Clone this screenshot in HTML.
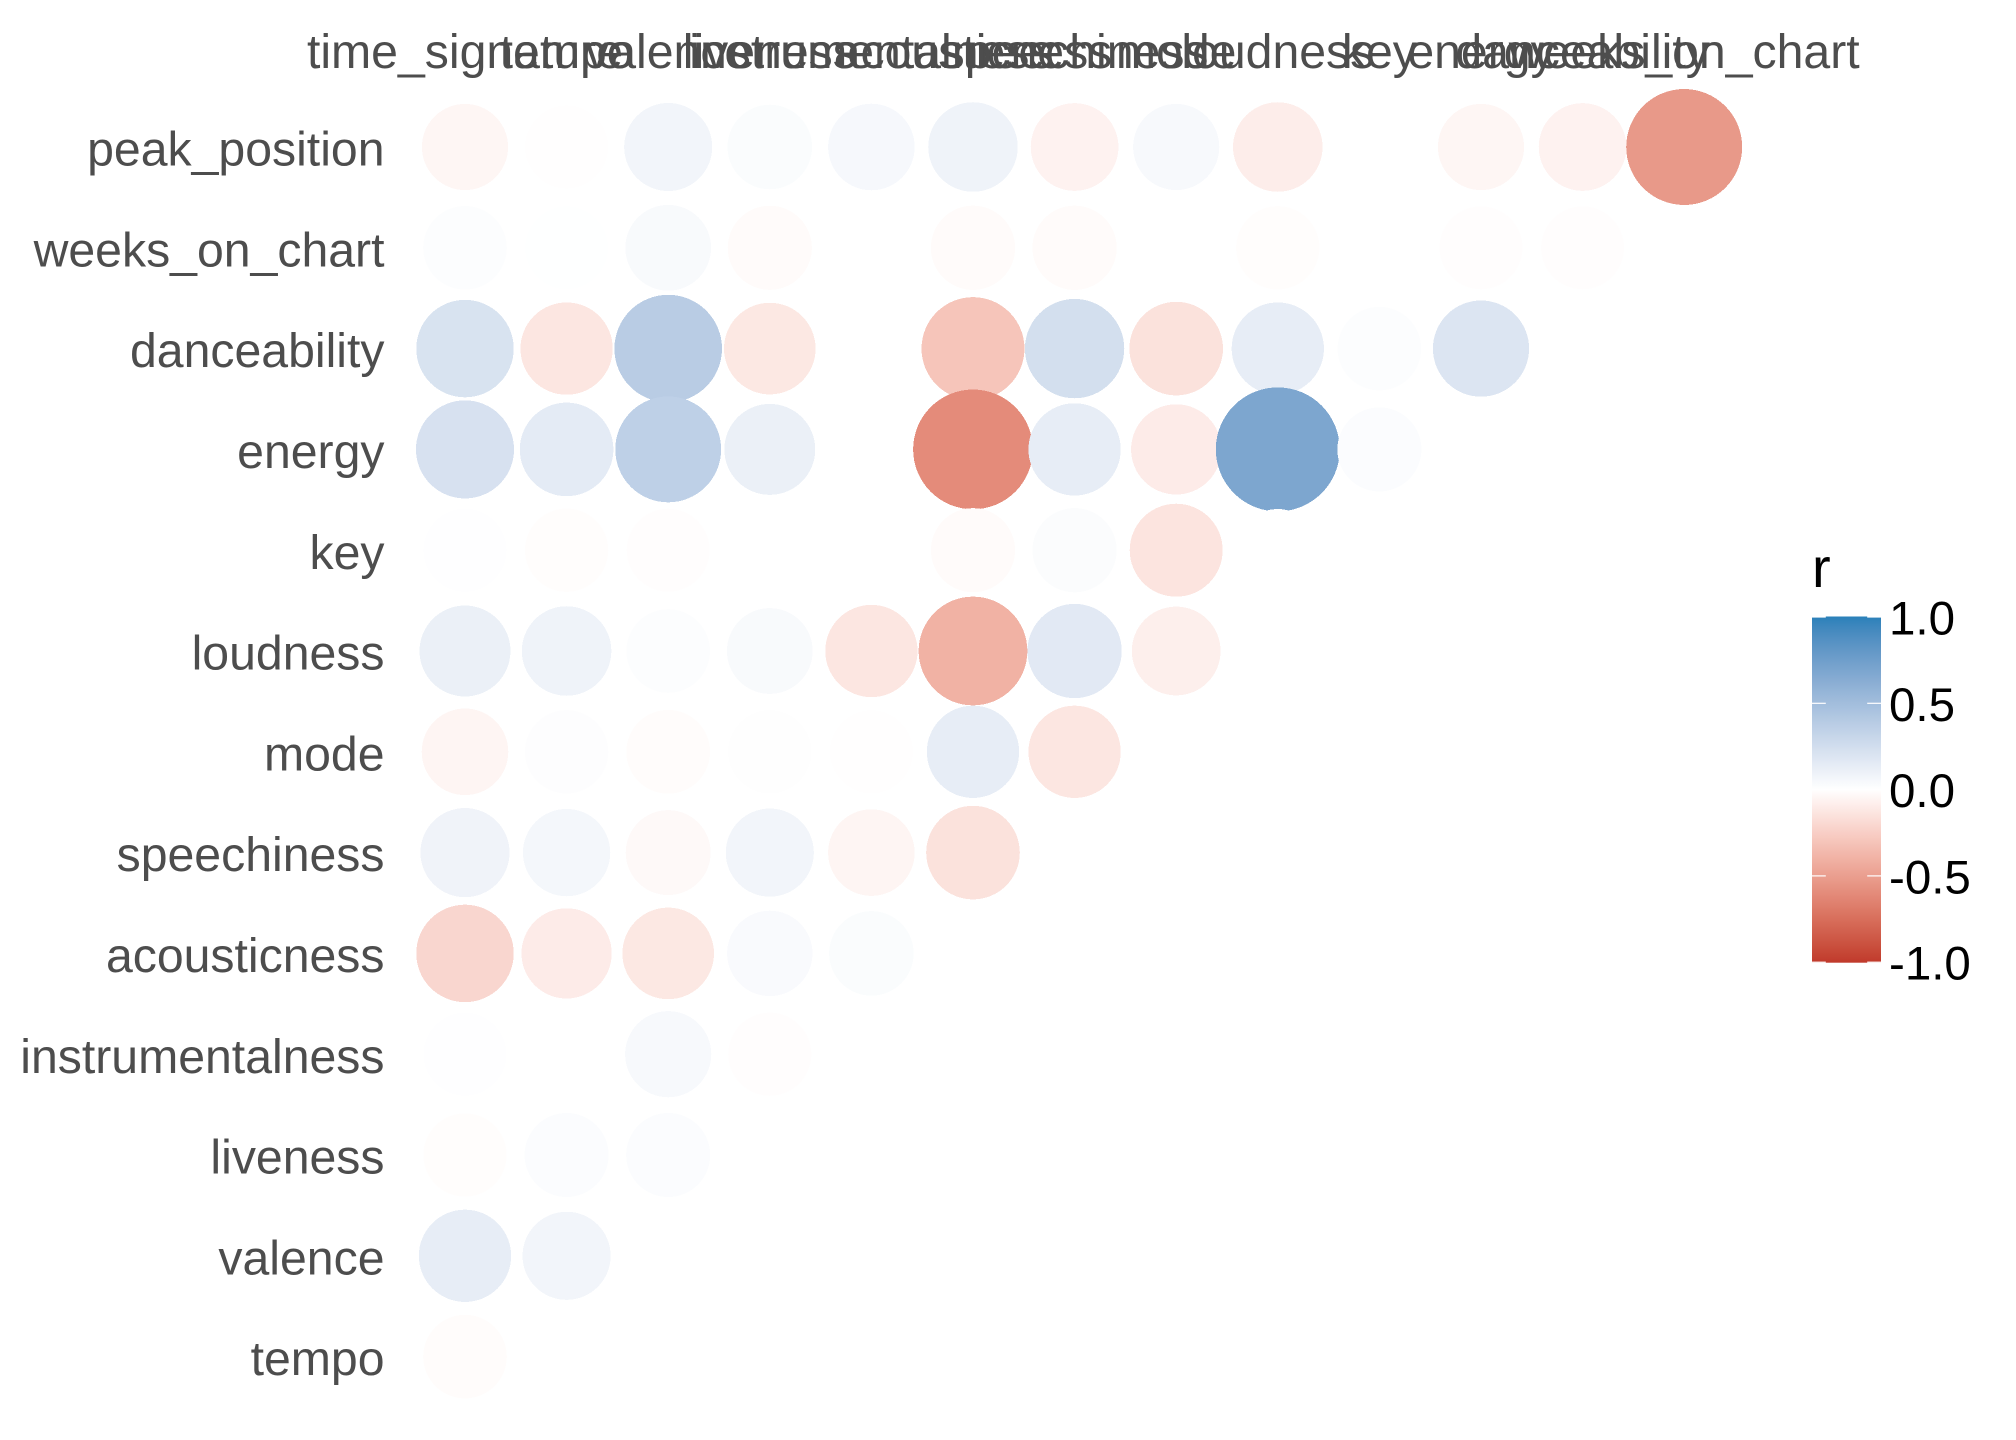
<!DOCTYPE html>
<html lang="en">
<head>
<meta charset="utf-8">
<title>Correlation plot</title>
<style>
  html, body { margin: 0; padding: 0; background: #ffffff; }
  svg { display: block; }
  text { font-family: "Liberation Sans", Arial, sans-serif; }
</style>
</head>
<body>
<svg id="chart" xmlns="http://www.w3.org/2000/svg" width="2016" height="1440" viewBox="0 0 2016 1440">
  <defs>
    <linearGradient id="legend-gradient" x1="0" y1="0" x2="0" y2="1"></linearGradient>
  </defs>
  <rect x="0" y="0" width="2016" height="1440" fill="#ffffff"></rect>
  <g id="x-axis"></g>
  <g id="y-axis"></g>
  <g id="points"></g>
  <g id="legend"></g>
</svg>
<script>
// ---- Data ----
const rowLabels = ["peak_position", "weeks_on_chart", "danceability", "energy", "key", "loudness", "mode", "speechiness", "acousticness", "instrumentalness", "liveness", "valence", "tempo"];
const columnLabels = ["time_signature", "tempo", "valence", "liveness", "instrumentalness", "acousticness", "speechiness", "mode", "loudness", "key", "energy", "danceability", "weeks_on_chart"];

const peakPositionR     = [-0.045, -0.005, 0.07, 0.025, 0.05, 0.09, -0.065, 0.045, -0.09, 0.002, -0.045, -0.065, -0.53];
const weeksOnChartR     = [0.015, 0.003, 0.04, -0.02, 0, -0.022, -0.022, 0, -0.012, 0.002, -0.008, -0.008];
const danceabilityR     = [0.21, -0.13, 0.38, -0.12, 0, -0.30, 0.24, -0.15, 0.13, 0.015, 0.19];
const energyR           = [0.22, 0.15, 0.35, 0.11, 0, -0.60, 0.13, -0.10, 0.68, 0.02];
const keyR              = [0.005, -0.012, -0.008, 0.002, 0, -0.02, 0.022, -0.14, 0.002];
const loudnessR         = [0.11, 0.09, 0.015, 0.04, -0.13, -0.40, 0.16, -0.08];
const modeR             = [-0.05, 0.012, -0.017, 0.008, -0.005, 0.13, -0.13];
const speechinessR      = [0.085, 0.06, -0.03, 0.07, -0.05, -0.15];
const acousticnessR     = [-0.21, -0.10, -0.12, 0.035, 0.025];
const instrumentalnessR = [0.004, 0, 0.045, -0.01];
const livenessR         = [-0.012, 0.02, 0.02];
const valenceR          = [0.13, 0.07];
const tempoR            = [-0.015];

const correlationRows = [peakPositionR, weeksOnChartR, danceabilityR, energyR, keyR, loudnessR, modeR, speechinessR, acousticnessR, instrumentalnessR, livenessR, valenceR, tempoR];

const legendTicks = [1, 0.5, 0, -0.5, -1];
const legendTickLabels = ["1.0", "0.5", "0.0", "-0.5", "-1.0"];

// ---- Axis functions ----
const svgNS = "http://www.w3.org/2000/svg";
function xScale(colIndex) { return 465 + 101.6 * colIndex; }
function yScale(rowIndex) { return 147 + 100.8 * rowIndex; }
function legendY(value) { return 789.6 - 172.6 * value; }
function diameter(r) { return 82 + 42 * Math.pow(Math.abs(r) / 0.68, 0.85); }

// ---- Colour scale: interpolated in Lab, red / white / blue ----
function hexToLab(hex) {
  const channel = i => {
    const c = parseInt(hex.substr(i, 2), 16) / 255;
    return c <= 0.04045 ? c / 12.92 : Math.pow((c + 0.055) / 1.055, 2.4);
  };
  const R = channel(1), G = channel(3), B = channel(5);
  const X = (0.4124564 * R + 0.3575761 * G + 0.1804375 * B) / 0.95047;
  const Y = 0.2126729 * R + 0.7151522 * G + 0.072175 * B;
  const Z = (0.0193339 * R + 0.119192 * G + 0.9503041 * B) / 1.08883;
  const f = t => t > 0.008856 ? Math.cbrt(t) : 7.787 * t + 16 / 116;
  return [116 * f(Y) - 16, 500 * (f(X) - f(Y)), 200 * (f(Y) - f(Z))];
}
function labToRgb(lab) {
  const fy = (lab[0] + 16) / 116, fx = fy + lab[1] / 500, fz = fy - lab[2] / 200;
  const g = t => t * t * t > 0.008856 ? t * t * t : (t - 16 / 116) / 7.787;
  const X = g(fx) * 0.95047, Y = g(fy), Z = g(fz) * 1.08883;
  const lin = [
    3.2404542 * X - 1.5371385 * Y - 0.4985314 * Z,
    -0.969266 * X + 1.8760108 * Y + 0.041556 * Z,
    0.0556434 * X - 0.2040259 * Y + 1.0572252 * Z
  ];
  const out = lin.map(c => {
    const v = c <= 0.0031308 ? 12.92 * c : 1.055 * Math.pow(Math.max(c, 0), 1 / 2.4) - 0.055;
    return Math.round(Math.min(1, Math.max(0, v)) * 255);
  });
  return "rgb(" + out.join(",") + ")";
}
const labLow = hexToLab("#C0392B");
const labMid = hexToLab("#FFFFFF");
const labHigh = hexToLab("#2980B9");
function colourScale(r) {
  const t = Math.min(1, Math.abs(r));
  const end = r < 0 ? labLow : labHigh;
  const lab = labMid.map((m, i) => m + (end[i] - m) * t);
  // pale blues in the reference lean slightly less teal than a straight Lab ramp
  if (r > 0) lab[1] = labMid[1] + (end[1] - labMid[1]) * Math.pow(t, 1.25);
  return labToRgb(lab);
}

// ---- Axis labels ----
const xAxis = document.getElementById("x-axis");
columnLabels.forEach(function (label, i) {
  const t = document.createElementNS(svgNS, "text");
  
  
  t.setAttribute("x", xScale(i));
  t.setAttribute("y", 68);
  t.setAttribute("text-anchor", "middle");
  t.setAttribute("font-size", "48.2");
  t.setAttribute("fill", "#4D4D4D");
  t.textContent = label;
  xAxis.appendChild(t);
});

const yAxis = document.getElementById("y-axis");
rowLabels.forEach(function (label, j) {
  const t = document.createElementNS(svgNS, "text");
  
  
  t.setAttribute("x", 384.5);
  t.setAttribute("y", yScale(j) + 18.6);
  t.setAttribute("text-anchor", "end");
  t.setAttribute("font-size", "48.2");
  t.setAttribute("fill", "#4D4D4D");
  t.textContent = label;
  yAxis.appendChild(t);
});

// ---- Points ----
const pointsGroup = document.getElementById("points");
correlationRows.forEach(function (rowValues, j) {
  rowValues.forEach(function (r, i) {
    const c = document.createElementNS(svgNS, "circle");
    
    
    c.setAttribute("cx", xScale(i));
    c.setAttribute("cy", yScale(j));
    c.setAttribute("r", diameter(r) / 2);
    c.setAttribute("fill", colourScale(r));
    c.setAttribute("shape-rendering", "crispEdges");
    const tip = document.createElementNS(svgNS, "title");
    tip.textContent = rowLabels[j] + " / " + columnLabels[i] + ": " + r;
    c.appendChild(tip);
    pointsGroup.appendChild(c);
  });
});

// ---- Legend ----
const gradient = document.getElementById("legend-gradient");
for (let k = 0; k <= 80; k++) {
  const stop = document.createElementNS(svgNS, "stop");
  stop.setAttribute("offset", (k / 80 * 100) + "%");
  stop.setAttribute("stop-color", colourScale(1 - 2 * k / 80));
  gradient.appendChild(stop);
}

const legend = document.getElementById("legend");

const legendTitle = document.createElementNS(svgNS, "text");


legendTitle.setAttribute("x", 1812);
legendTitle.setAttribute("y", 587);
legendTitle.setAttribute("font-size", "56");
legendTitle.setAttribute("fill", "#000000");
legendTitle.textContent = "r";
legend.appendChild(legendTitle);

const legendBar = document.createElementNS(svgNS, "rect");


legendBar.setAttribute("x", 1812);
legendBar.setAttribute("y", legendY(1) - 0.5);
legendBar.setAttribute("width", 69);
legendBar.setAttribute("height", legendY(-1) - legendY(1) + 1);
legendBar.setAttribute("fill", "url(#legend-gradient)");
legend.appendChild(legendBar);

legendTicks.forEach(function (value, i) {
  const y = legendY(value);
  [[1812, 1825.8], [1867.2, 1881]].forEach(function (span) {
    const tick = document.createElementNS(svgNS, "line");
    
    
    tick.setAttribute("x1", span[0]);
    tick.setAttribute("x2", span[1]);
    tick.setAttribute("y1", y);
    tick.setAttribute("y2", y);
    tick.setAttribute("stroke", "#ffffff");
    tick.setAttribute("stroke-width", "1.2");
    legend.appendChild(tick);
  });
  const label = document.createElementNS(svgNS, "text");
  
  
  label.setAttribute("x", 1889);
  label.setAttribute("y", y + 17.5);
  label.setAttribute("font-size", "47.5");
  label.setAttribute("fill", "#000000");
  label.textContent = legendTickLabels[i];
  legend.appendChild(label);
});
</script>
</body>
</html>
